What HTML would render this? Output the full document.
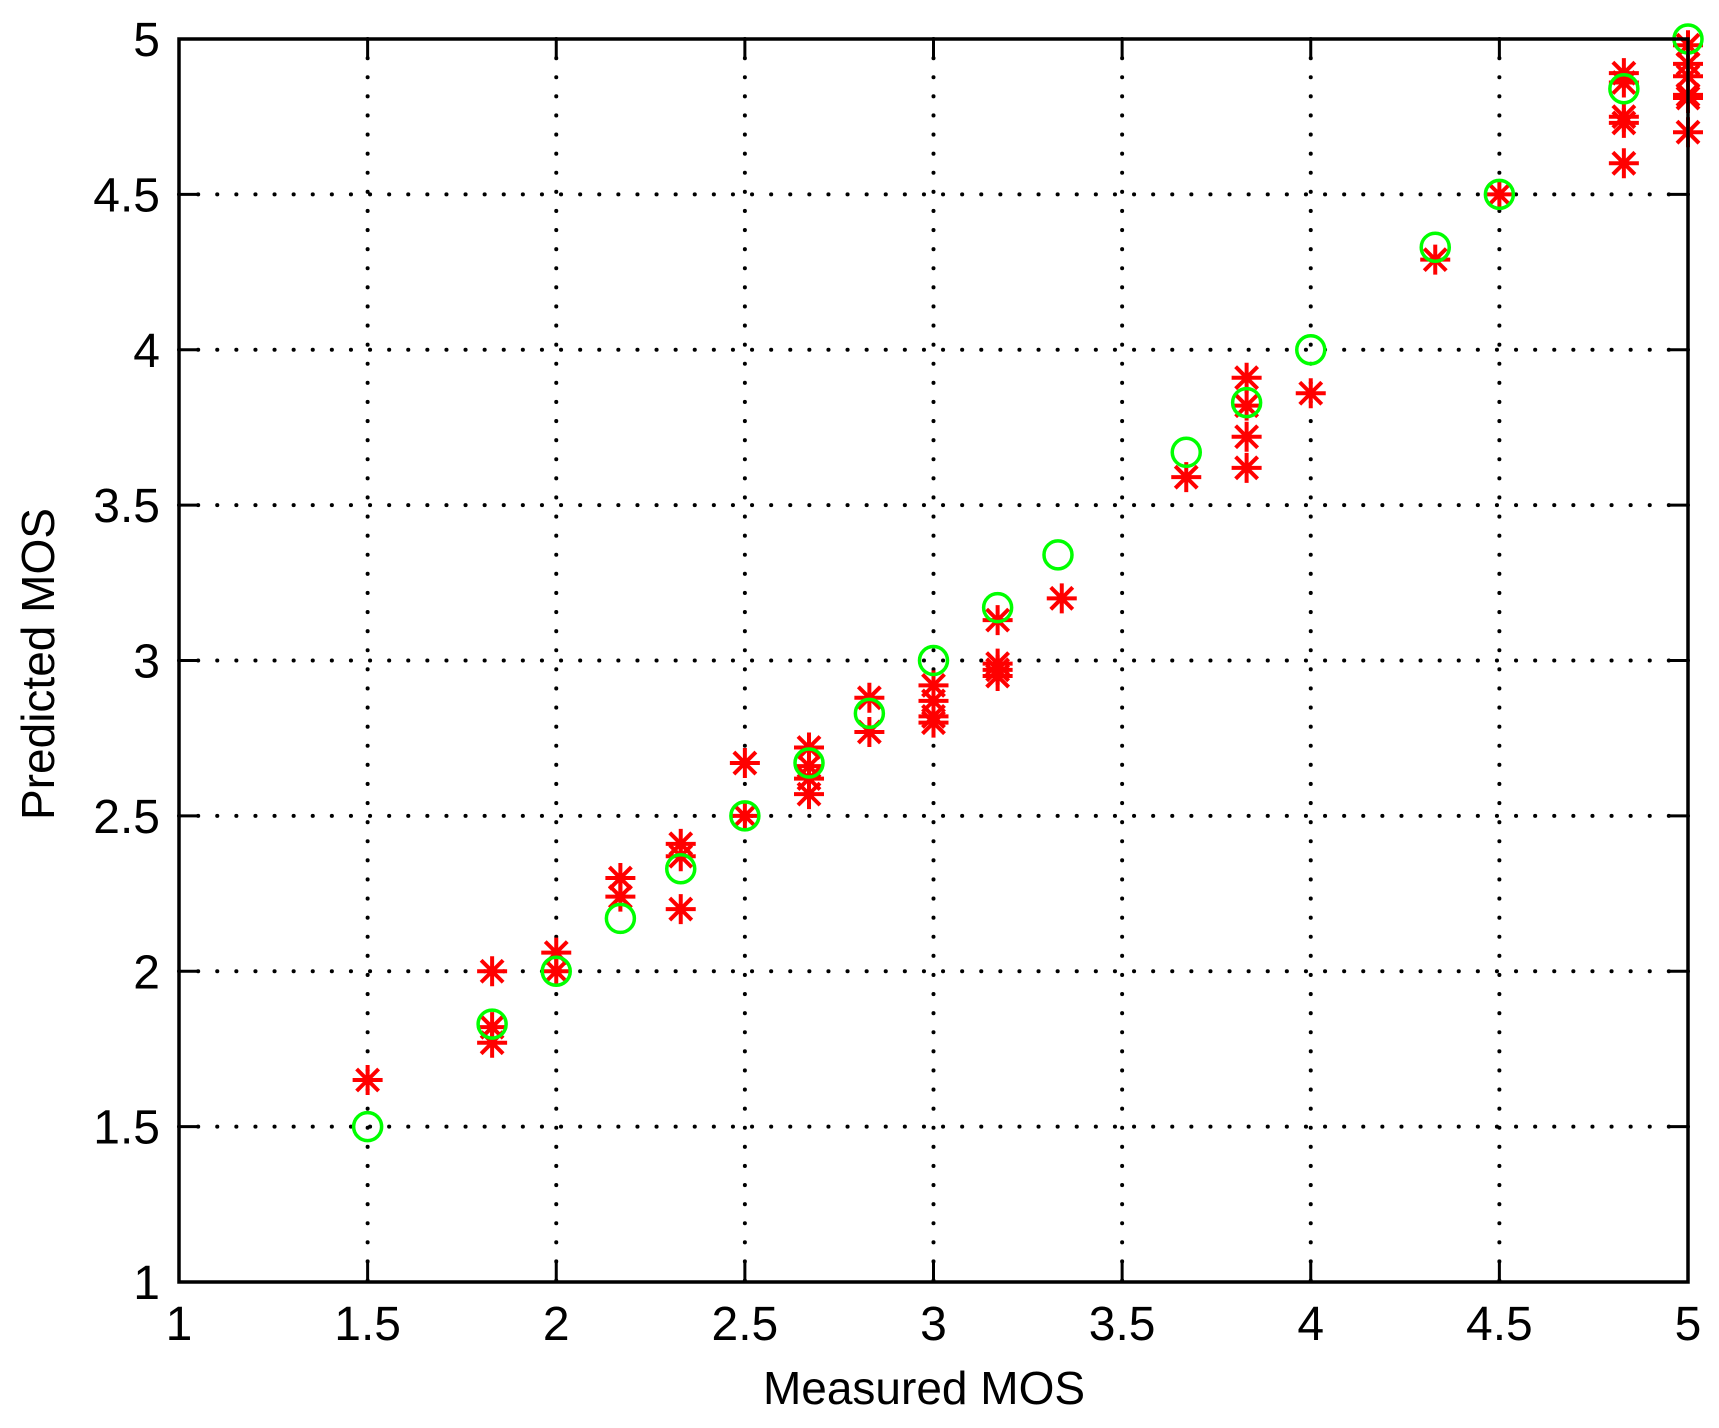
<!DOCTYPE html>
<html><head><meta charset="utf-8">
<style>
html,body{margin:0;padding:0;background:#fff;}
svg{display:block;}
text{font-family:"Liberation Sans",sans-serif;fill:#000;}
</style></head>
<body>
<svg id="chart" width="1719" height="1428" viewBox="0 0 1719 1428" xmlns="http://www.w3.org/2000/svg">
<rect x="0" y="0" width="1719" height="1428" fill="#fff"/>
<g id="grid"></g>
<g id="marks"></g>
<g id="axes"></g>
<text x="924" y="1404" font-size="46" text-anchor="middle">Measured MOS</text>
<text transform="translate(54,664) rotate(-90)" font-size="46" text-anchor="middle">Predicted MOS</text>
</svg>
<script>
const xTicks = [1, 1.5, 2, 2.5, 3, 3.5, 4, 4.5, 5];
const xTickLabels = ["1", "1.5", "2", "2.5", "3", "3.5", "4", "4.5", "5"];
const yTicks = [1, 1.5, 2, 2.5, 3, 3.5, 4, 4.5, 5];
const yTickLabels = ["1", "1.5", "2", "2.5", "3", "3.5", "4", "4.5", "5"];
const circleX = [1.5, 1.83, 2, 2.17, 2.33, 2.5, 2.67, 2.83, 3, 3.17, 3.33, 3.67, 3.83, 4, 4.33, 4.5, 4.83, 5];
const circleY = [1.5, 1.83, 2, 2.17, 2.33, 2.5, 2.67, 2.83, 3, 3.17, 3.34, 3.67, 3.83, 4, 4.33, 4.5, 4.84, 5];
const starX = [1.5, 1.83, 1.83, 1.83, 2, 2, 2.17, 2.17, 2.33, 2.33, 2.33, 2.5, 2.5, 2.67, 2.67, 2.67, 2.67, 2.83, 2.83, 3, 3, 3, 3, 3.17, 3.17, 3.17, 3.17, 3.34, 3.67, 3.83, 3.83, 3.83, 3.83, 4, 4.33, 4.5, 4.83, 4.83, 4.83, 4.83, 4.83, 5, 5, 5, 5, 5, 5];
const starY = [1.65, 2.0, 1.82, 1.77, 2.06, 2.0, 2.30, 2.24, 2.41, 2.37, 2.20, 2.67, 2.5, 2.72, 2.66, 2.62, 2.57, 2.88, 2.77, 2.92, 2.87, 2.82, 2.80, 3.13, 2.99, 2.97, 2.95, 3.20, 3.59, 3.91, 3.82, 3.72, 3.62, 3.86, 4.29, 4.50, 4.89, 4.86, 4.75, 4.73, 4.60, 4.98, 4.92, 4.88, 4.82, 4.81, 4.70];

const L = 179, R = 1688, T = 39, B = 1282;
function sx(v){ return L + (v - 1) / 4 * (R - L); }
function sy(v){ return B - (v - 1) / 4 * (B - T); }
const NS = "http://www.w3.org/2000/svg";
function mk(tag, attrs, parent){
  const e = document.createElementNS(NS, tag);
  for (const k in attrs) e.setAttribute(k, attrs[k]);
  parent.appendChild(e);
  return e;
}
const grid = document.getElementById('grid');
const marks = document.getElementById('marks');
const axes = document.getElementById('axes');

xTicks.forEach((t, i) => {
  const x = sx(t);
  if (t > 1 && t < 5) {
    const g = mk('line', {x1:x, y1:T, x2:x, y2:B, stroke:'#000', 'stroke-width':4, 'stroke-dasharray':'0.1 19', 'stroke-linecap':'round'}, grid);
    
    
  }
  const tk = mk('path', {d:`M${x},${B}V${B-20}M${x},${T}V${T+20}`, stroke:'#000', 'stroke-width':3, fill:'none'}, axes);
  
  
  const lb = mk('text', {x:x, y:1340, 'font-size':48, 'text-anchor':'middle'}, axes);
  lb.textContent = xTickLabels[i];
  
  
});
yTicks.forEach((t, i) => {
  const y = sy(t);
  if (t > 1 && t < 5) {
    const g = mk('line', {x1:L, y1:y, x2:R, y2:y, stroke:'#000', 'stroke-width':4, 'stroke-dasharray':'0.1 19', 'stroke-linecap':'round'}, grid);
    
    
  }
  const tk = mk('path', {d:`M${L},${y}H${L+20}M${R},${y}H${R-20}`, stroke:'#000', 'stroke-width':3, fill:'none'}, axes);
  
  
  const lb = mk('text', {x:160, y:y + 17, 'font-size':48, 'text-anchor':'end'}, axes);
  lb.textContent = yTickLabels[i];
  
  
});
const frame = mk('rect', {x:L, y:T, width:R-L, height:B-T, fill:'none', stroke:'#000', 'stroke-width':3.5}, axes);



starX.forEach((v, i) => {
  const x = sx(v), y = sy(starY[i]), r = 15, d = 11;
  const s = mk('path', {d:`M${x-r},${y}H${x+r}M${x},${y-r}V${y+r}M${x-d},${y-d}L${x+d},${y+d}M${x-d},${y+d}L${x+d},${y-d}`, stroke:'#ff0000', 'stroke-width':4, fill:'none'}, marks);
  
  
});
circleX.forEach((v, i) => {
  const c = mk('circle', {cx:sx(v), cy:sy(circleY[i]), r:14, stroke:'#00ff00', 'stroke-width':3.5, fill:'none'}, marks);
  
  
});
</script>
</body></html>
